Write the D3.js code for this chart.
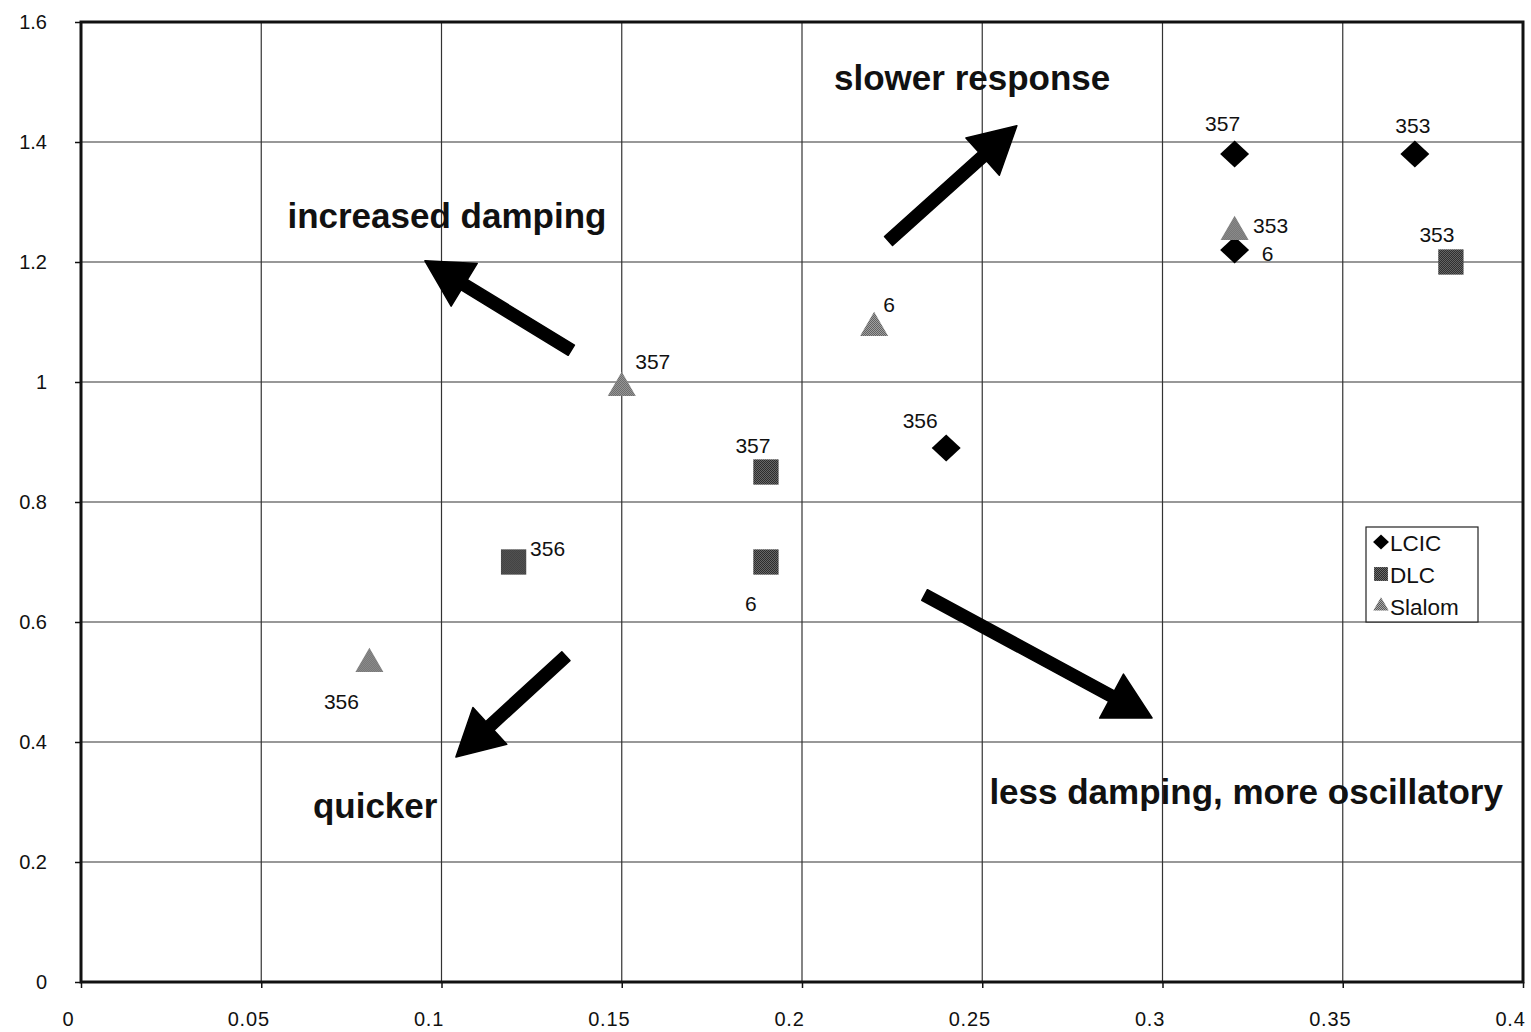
<!DOCTYPE html>
<html>
<head>
<meta charset="utf-8">
<script src="https://cdn.jsdelivr.net/npm/d3@7"></script>
<style>
  html, body { margin: 0; padding: 0; background: #fff; }
  svg { display: block; }
  text { font-family: "Liberation Sans", Arial, sans-serif; fill: #111; }
</style>
</head>
<body>
<svg id="chart" width="1531" height="1032"></svg>
<script>
// ---- data ----
const xTicks = [0, 0.05, 0.1, 0.15, 0.2, 0.25, 0.3, 0.35, 0.4];
const xTickLabels = ["0", "0.05", "0.1", "0.15", "0.2", "0.25", "0.3", "0.35", "0.4"];
const yTicks = [0, 0.2, 0.4, 0.6, 0.8, 1.0, 1.2, 1.4, 1.6];
const yTickLabels = ["0", "0.2", "0.4", "0.6", "0.8", "1", "1.2", "1.4", "1.6"];

const seriesNames = ["LCIC", "DLC", "Slalom"];

const lcicX = [0.32, 0.37, 0.32, 0.24];
const lcicY = [1.38, 1.38, 1.22, 0.89];
const lcicLabels = ["357", "353", "6", "356"];

const dlcX = [0.38, 0.19, 0.19, 0.12];
const dlcY = [1.20, 0.85, 0.70, 0.70];
const dlcLabels = ["353", "357", "6", "356"];

const slalomX = [0.32, 0.22, 0.15, 0.08];
const slalomY = [1.25, 1.09, 0.99, 0.53];
const slalomLabels = ["353", "6", "357", "356"];

// direction arrows: start and tip, in axis units
const arrowStart = [[0.224, 1.235], [0.136, 1.053], [0.1345, 0.543], [0.234, 0.645]];
const arrowEnd = [[0.2596, 1.427], [0.0954, 1.202], [0.104, 0.375], [0.2971, 0.44]];

const noteTexts = ["slower response", "increased damping", "quicker", "less damping, more oscillatory"];
const notePos = [[0.2472, 1.508], [0.1015, 1.278], [0.0816, 0.294], [0.3232, 0.317]];

// ---- layout ----
const svg = d3.select("#chart");
const plot = { left: 81, right: 1523, top: 22, bottom: 982 };

const x = d3.scaleLinear().domain([0, 0.4]).range([plot.left, plot.right]);
const y = d3.scaleLinear().domain([0, 1.6]).range([plot.bottom, plot.top]);

// halftone fills for the grey markers
const defs = svg.append("defs");
function dither(id, a, b) {
  const p = defs.append("pattern").attr("id", id).attr("width", 2).attr("height", 2)
    .attr("patternUnits", "userSpaceOnUse");
  p.append("rect").attr("width", 2).attr("height", 2).attr("fill", a);
  p.append("rect").attr("width", 1).attr("height", 1).attr("fill", b);
  p.append("rect").attr("x", 1).attr("y", 1).attr("width", 1).attr("height", 1).attr("fill", b);
}
dither("dlcFill", "#6a6a6a", "#2a2a2a");
dither("slalomFill", "#a8a8a8", "#5a5a5a");

// gridlines
const grid = svg.append("g").attr("stroke", "#333").attr("stroke-width", 1.2);
grid.selectAll(".gx").data(xTicks.slice(1, -1)).join("line")
  .attr("x1", d => x(d)).attr("x2", d => x(d))
  .attr("y1", plot.top).attr("y2", plot.bottom);
grid.selectAll(".gy").data(yTicks.slice(1, -1)).join("line")
  .attr("y1", d => y(d)).attr("y2", d => y(d))
  .attr("x1", plot.left).attr("x2", plot.right);

// axes
const xAxis = d3.axisBottom(x).tickValues(xTicks)
  .tickFormat((d, i) => xTickLabels[i]).tickSize(6).tickPadding(24);
const yAxis = d3.axisLeft(y).tickValues(yTicks)
  .tickFormat((d, i) => yTickLabels[i]).tickSize(6).tickPadding(28);

const gx = svg.append("g").attr("transform", `translate(0,${plot.bottom})`).call(xAxis);
const gy = svg.append("g").attr("transform", `translate(${plot.left},0)`).call(yAxis);
[gx, gy].forEach(g => {
  g.select(".domain").remove();
  g.selectAll(".tick line").attr("stroke", "#111").attr("stroke-width", 1.5);
  g.selectAll(".tick text").style("font-family", "Liberation Sans, Arial, sans-serif")
    .style("font-size", "20px").attr("fill", "#111");
});
gx.selectAll(".tick text").attr("dx", -13).style("letter-spacing", "0.8px");

// plot frame
svg.append("rect")
  .attr("x", plot.left).attr("y", plot.top)
  .attr("width", plot.right - plot.left).attr("height", plot.bottom - plot.top)
  .attr("fill", "none").attr("stroke", "#111").attr("stroke-width", 3);

// marker shapes
const diamond = {
  draw(ctx, size) {
    const r = Math.sqrt(size / 2);
    ctx.moveTo(0, -r * 0.93);
    ctx.lineTo(r, 0);
    ctx.lineTo(0, r * 0.93);
    ctx.lineTo(-r, 0);
    ctx.closePath();
  }
};
const shapes = {
  LCIC: { sym: diamond, size: 420, fill: "#000" },
  DLC: { sym: d3.symbolSquare, size: 640, fill: "url(#dlcFill)" },
  Slalom: { sym: d3.symbolTriangle, size: 340, fill: "url(#slalomFill)" }
};

const series = [
  { name: "LCIC", xs: lcicX, ys: lcicY, labels: lcicLabels },
  { name: "DLC", xs: dlcX, ys: dlcY, labels: dlcLabels },
  { name: "Slalom", xs: slalomX, ys: slalomY, labels: slalomLabels }
];

// label offsets from each marker centre (pixels), per series in point order
const labelOffset = {
  LCIC: [[-12, -31], [-2, -29], [33, 3], [-26, -28]],
  DLC: [[-14, -28], [-13, -27], [-15, 41], [34, -14]],
  Slalom: [[36, -7], [15, -24], [31, -27], [-28, 37]]
};

series.forEach(s => {
  const pts = s.xs.map((v, i) => ({ x: v, y: s.ys[i], label: s.labels[i], i }));
  const shp = shapes[s.name];
  const g = svg.append("g");
  g.selectAll("path").data(pts).join("path")
    .attr("d", d3.symbol(shp.sym, shp.size))
    .attr("transform", d => `translate(${x(d.x)},${y(d.y)})`)
    .attr("fill", shp.fill);
  g.selectAll("text").data(pts).join("text")
    .attr("x", d => x(d.x) + labelOffset[s.name][d.i][0])
    .attr("y", d => y(d.y) + labelOffset[s.name][d.i][1])
    .attr("text-anchor", "middle").attr("dominant-baseline", "central")
    .style("font-size", "21px")
    .text(d => d.label);
});

// direction arrows
function arrowPath(x0, y0, x1, y1) {
  const dx = x1 - x0, dy = y1 - y0, len = Math.hypot(dx, dy);
  const ux = dx / len, uy = dy / len, nx = -uy, ny = ux;
  const headLen = 46, headHalf = 25, shaftHalf = 6;
  const bx = x1 - ux * headLen, by = y1 - uy * headLen;
  const pts = [
    [x0 + nx * shaftHalf, y0 + ny * shaftHalf],
    [bx + nx * shaftHalf, by + ny * shaftHalf],
    [bx + nx * headHalf, by + ny * headHalf],
    [x1, y1],
    [bx - nx * headHalf, by - ny * headHalf],
    [bx - nx * shaftHalf, by - ny * shaftHalf],
    [x0 - nx * shaftHalf, y0 - ny * shaftHalf]
  ];
  return "M" + pts.map(p => p.join(",")).join("L") + "Z";
}
svg.append("g").selectAll("path").data(arrowStart).join("path")
  .attr("d", (d, i) => arrowPath(x(d[0]), y(d[1]), x(arrowEnd[i][0]), y(arrowEnd[i][1])))
  .attr("fill", "#000").attr("stroke", "#000").attr("stroke-width", 1.5)
  .attr("stroke-linejoin", "round");

// region notes
svg.append("g").selectAll("text").data(noteTexts).join("text")
  .attr("x", (d, i) => x(notePos[i][0]))
  .attr("y", (d, i) => y(notePos[i][1]))
  .attr("text-anchor", "middle").attr("dominant-baseline", "central")
  .style("font-size", "35px").style("font-weight", "bold")
  .text(d => d);

// legend
const legend = svg.append("g").attr("transform", "translate(1366,527)");
legend.append("rect").attr("width", 112).attr("height", 95)
  .attr("fill", "#fff").attr("stroke", "#222").attr("stroke-width", 1.2);
const legendItems = legend.selectAll("g").data(seriesNames).join("g")
  .attr("transform", (d, i) => `translate(0,${15 + i * 32})`);
legendItems.append("path")
  .attr("d", d => d3.symbol(shapes[d].sym, shapes[d].size * 0.3)())
  .attr("transform", "translate(15,0)")
  .attr("fill", d => shapes[d].fill);
legendItems.append("text").attr("x", 24).attr("y", 1)
  .attr("dominant-baseline", "central").style("font-size", "22.5px")
  .text(d => d);
</script>
</body>
</html>
